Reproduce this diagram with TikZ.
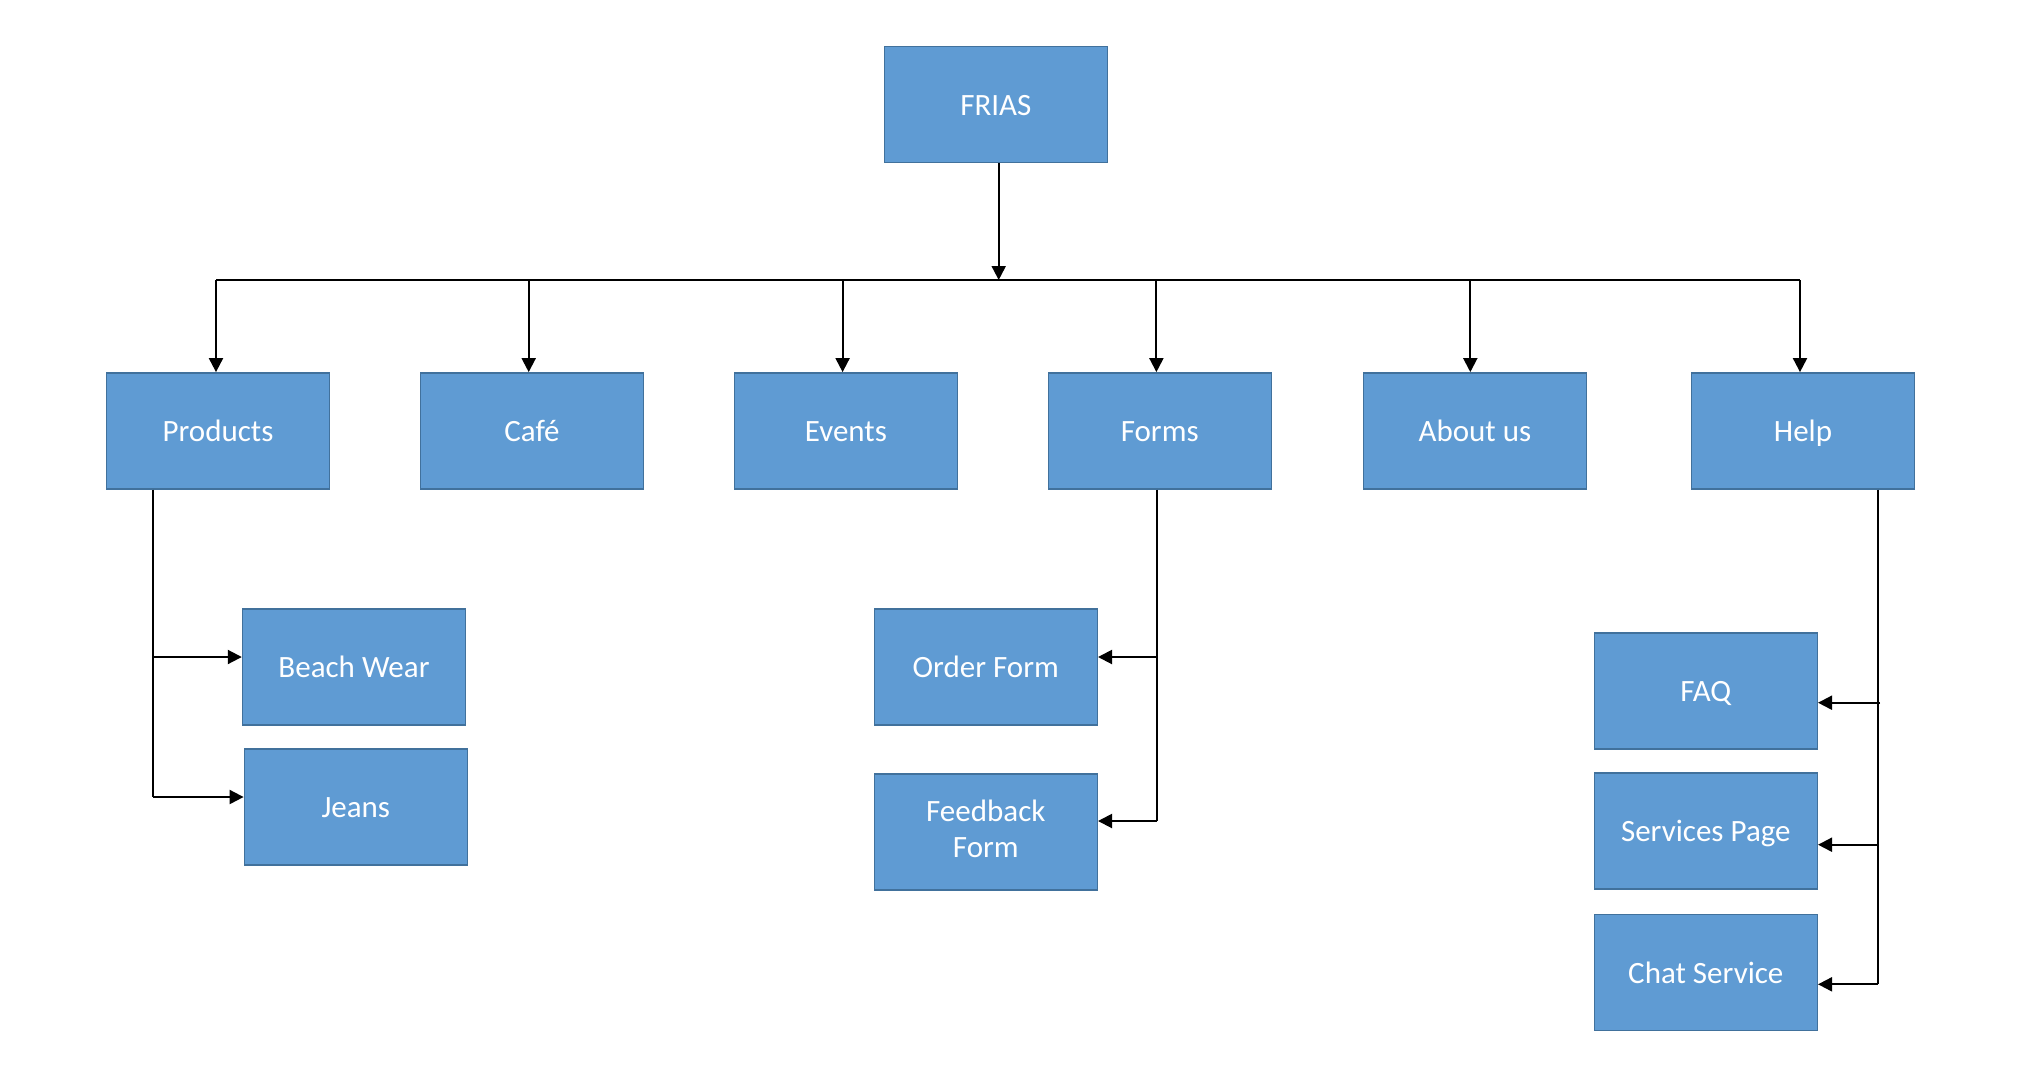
\documentclass[tikz,border=0pt]{standalone}
\usepackage{fontspec}
\setmainfont{Carlito}
\usetikzlibrary{arrows.meta}
\definecolor{boxfill}{HTML}{5F9BD3}
\definecolor{boxline}{HTML}{41719C}
\begin{document}
\begin{tikzpicture}[x=1pt,y=-1pt,
  boxbase/.style={draw=boxline, line width=1.4pt, fill=boxfill,
    minimum width=223pt, minimum height=116pt, inner sep=0pt,
    text=white, font=\fontsize{31}{36}\selectfont, align=center},
  box/.style={boxbase, text height=26pt, text depth=4pt},
  wire/.style={line width=2pt},
  link/.style={line width=2pt, -{Triangle[length=14pt,width=14pt]}}]
\useasboundingbox (0,0) rectangle (2042,1088);

% top level
\node[box] (frias) at (995.8,104.7) {FRIAS};

% second level
\node[box] (products) at (218,430.8) {Products};
\node[box] (cafe)     at (532,430.8) {Café};
\node[box] (events)   at (845.9,430.8) {Events};
\node[box] (forms)    at (1159.7,430.8) {Forms};
\node[box] (about)    at (1474.9,430.8) {About us};
\node[box] (help)     at (1803,430.8) {Help};

% third level
\node[box] (beach)    at (354,666.9) {Beach Wear};
\node[box] (jeans)    at (355.8,806.9) {Jeans};
\node[box] (order)    at (985.8,666.9) {Order Form};
\node[boxbase] (feedback) at (985.8,831.9) {\begin{tabular}{@{}c@{}}Feedback\\Form\end{tabular}};
\node[box] (faq)      at (1705.8,690.9) {FAQ};
\node[box] (services) at (1705.8,830.9) {Services Page};
\node[box] (chat)     at (1705.8,972.7) {Chat Service};

% distribution bar under the root
\coordinate (f0) at (998.7,280);
\coordinate (b1) at (216,280);
\coordinate (b2) at (528.7,280);
\coordinate (b3) at (842.6,280);
\coordinate (b4) at (1156.4,280);
\coordinate (b5) at (1470.3,280);
\coordinate (b6) at (1800,280);

\draw[link] (frias.south -| f0) -- (f0);
\draw[wire] (b1) -- (b6);
\draw[link] (b1) -- (b1 |- products.north);
\draw[link] (b2) -- (b2 |- cafe.north);
\draw[link] (b3) -- (b3 |- events.north);
\draw[link] (b4) -- (b4 |- forms.north);
\draw[link] (b5) -- (b5 |- about.north);
\draw[link] (b6) -- (b6 |- help.north);

% Products branch
\coordinate (p1) at (153,657);
\coordinate (p0) at (153,797);
\draw[wire] (products.south -| p0) -- (p0);
\draw[link] (p1) -- (p1 -| beach.west);
\draw[link] (p0) -- (p0 -| jeans.west);

% Forms branch
\coordinate (m1) at (1157,657);
\coordinate (m0) at (1157,821);
\draw[wire] (forms.south -| m0) -- (m0);
\draw[link] (m1) -- (m1 -| order.east);
\draw[link] (m0) -- (m0 -| feedback.east);

% Help branch
\coordinate (h2) at (1880,702.7);
\coordinate (h1) at (1878,844.7);
\coordinate (h0) at (1878,984.3);
\draw[wire] (help.south -| h0) -- (h0);
\draw[link] (h2) -- (h2 -| faq.east);
\draw[link] (h1) -- (h1 -| services.east);
\draw[link] (h0) -- (h0 -| chat.east);
\end{tikzpicture}
\end{document}
